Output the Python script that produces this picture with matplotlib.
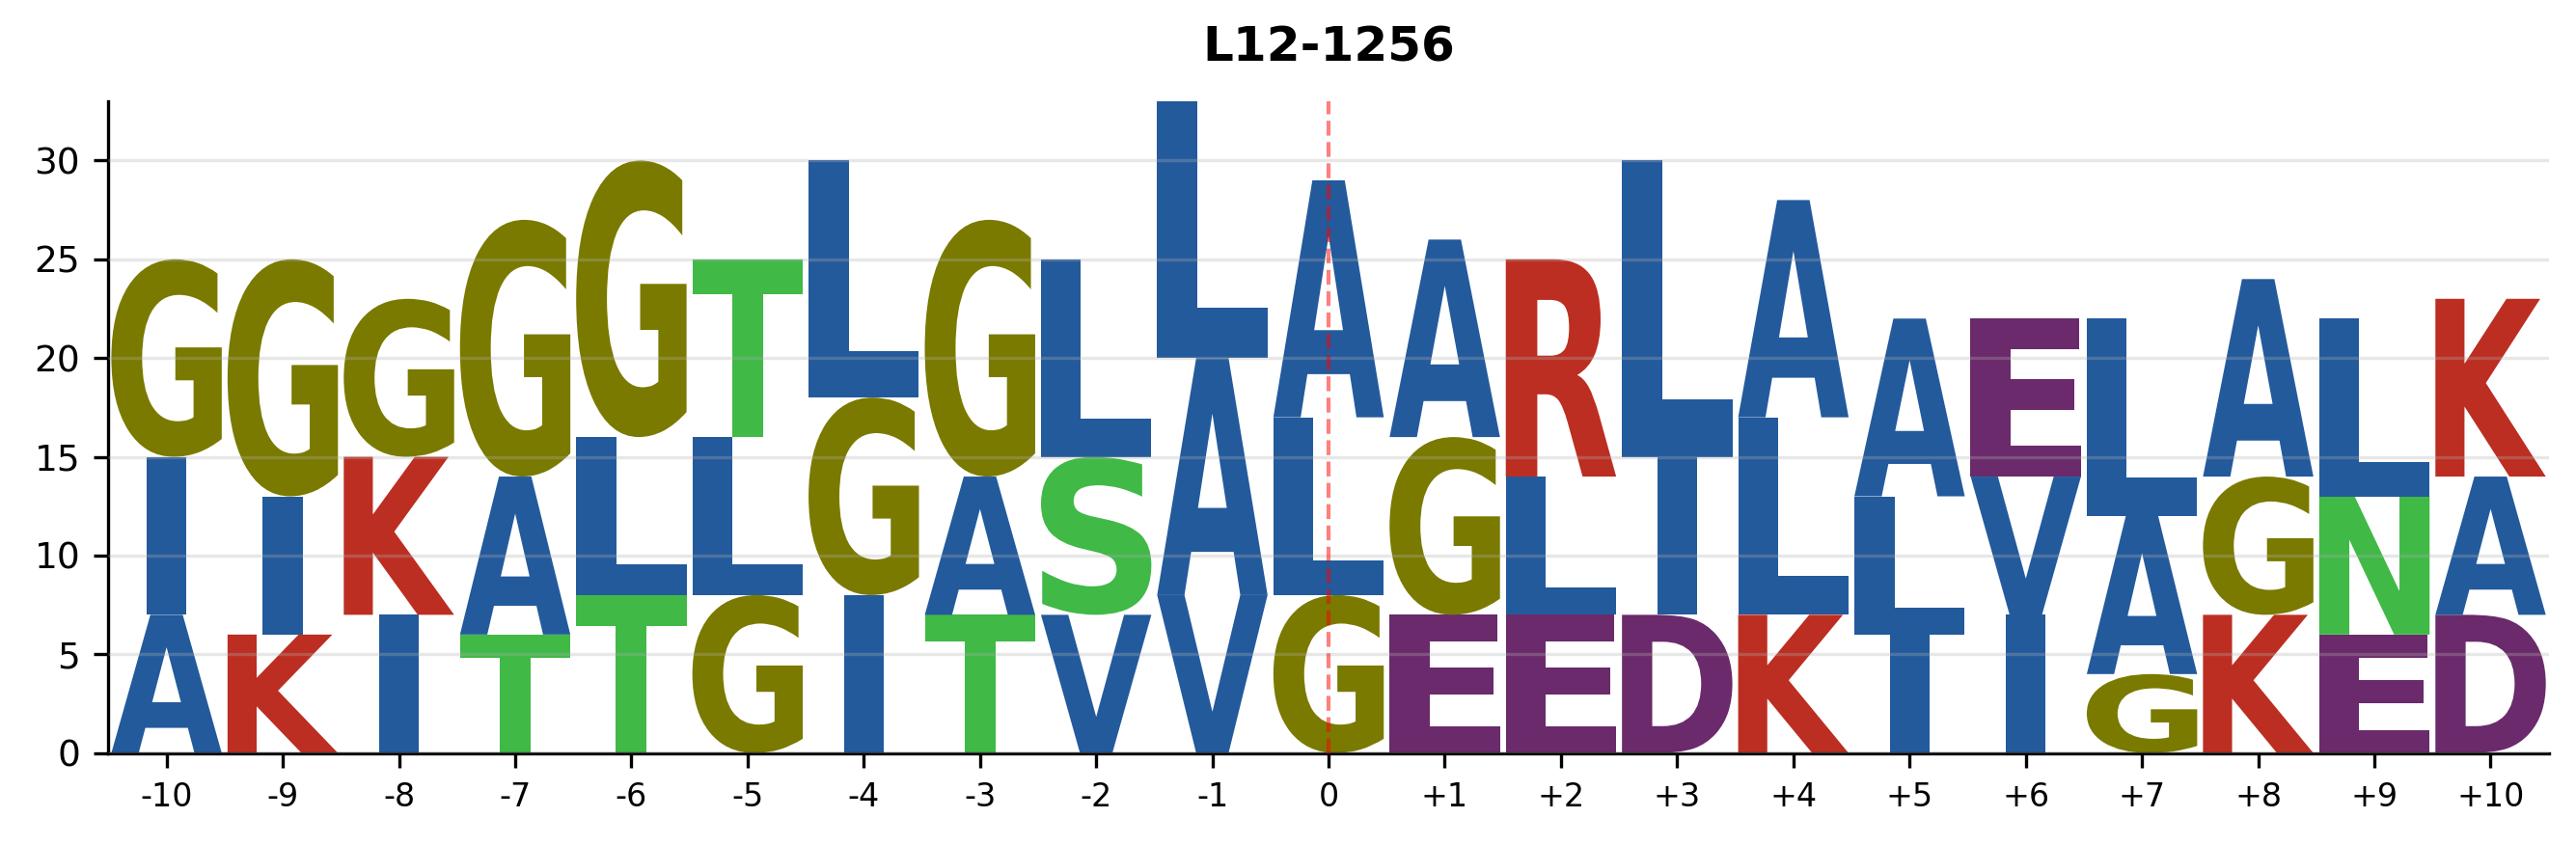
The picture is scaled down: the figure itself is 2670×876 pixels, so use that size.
#!/usr/bin/env python3
"""
Sequence logo for L12-1256 (positions -10..+10 around the site)
Letters are drawn as glyph paths stretched to fill their stack slot.
"""

import matplotlib

matplotlib.use("Agg")
import matplotlib.pyplot as plt
from matplotlib.font_manager import FontProperties
from matplotlib.patches import PathPatch
from matplotlib.textpath import TextPath
from matplotlib.transforms import Affine2D

# positions relative to the site
positions = list(range(-10, 11))
tick_labels = [f"{p:+d}" if p > 0 else str(p) for p in positions]

# letters per position, bottom -> top, with their counts
letters = [
    ["A", "I", "G"],  # -10
    ["K", "I", "G"],  # -9
    ["I", "K", "G"],  # -8
    ["T", "A", "G"],  # -7
    ["T", "L", "G"],  # -6
    ["G", "L", "T"],  # -5
    ["I", "G", "L"],  # -4
    ["T", "A", "G"],  # -3
    ["V", "S", "L"],  # -2
    ["V", "A", "L"],  # -1
    ["G", "L", "A"],  # 0
    ["E", "G", "A"],  # +1
    ["E", "L", "R"],  # +2
    ["D", "I", "L"],  # +3
    ["K", "L", "A"],  # +4
    ["I", "L", "A"],  # +5
    ["I", "V", "E"],  # +6
    ["G", "A", "L"],  # +7
    ["K", "G", "A"],  # +8
    ["E", "N", "L"],  # +9
    ["D", "A", "K"],  # +10
]
counts = [
    [7, 8, 10],
    [6, 7, 12],
    [7, 8, 8],
    [6, 8, 13],
    [8, 8, 14],
    [8, 8, 9],
    [8, 10, 12],
    [7, 7, 13],
    [7, 8, 10],
    [8, 12, 13],
    [8, 9, 12],
    [7, 9, 10],
    [7, 7, 11],
    [7, 8, 15],
    [7, 10, 11],
    [6, 7, 9],
    [7, 7, 8],
    [4, 8, 10],
    [7, 7, 10],
    [6, 7, 9],
    [7, 7, 9],
]

# residue colour groups
BLUE = "#235a9c"
OLIVE = "#7a7a00"
RED = "#bc2e22"
GREEN = "#40b947"
PURPLE = "#6a2a6b"
letter_colors = {
    "A": BLUE, "I": BLUE, "L": BLUE, "V": BLUE,
    "G": OLIVE,
    "K": RED, "R": RED,
    "S": GREEN, "N": GREEN, "T": GREEN,
    "E": PURPLE, "D": PURPLE,
}

FONT = FontProperties(family="DejaVu Sans", weight="bold")
WIDTH = 0.95
# narrow glyphs (I) are not stretched wider than an E would be
E_WIDTH = TextPath((0, 0), "E", size=1, prop=FONT).get_extents().width


def draw_letter(ax, char, x, y0, height, color):
    """Stretch a glyph so it fills its slot [x-w/2, x+w/2] x [y0, y0+height]"""
    path = TextPath((0, 0), char, size=1, prop=FONT)
    ext = path.get_extents()
    sx = min(WIDTH / ext.width, WIDTH / E_WIDTH)
    w = ext.width * sx
    tr = (
        Affine2D()
        .translate(-ext.x0, -ext.y0)
        .scale(sx, height / ext.height)
        .translate(x - w / 2, y0)
    )
    patch = PathPatch(tr.transform_path(path), facecolor=color, edgecolor="none", lw=0, zorder=2)
    ax.add_patch(patch)


def main():
    fig = plt.figure(figsize=(8.9, 2.92), dpi=300)
    ax = fig.add_axes([0.0421, 0.1088, 0.9473, 0.7713])

    for pos, chars, vals in zip(positions, letters, counts):
        bottom = 0
        for ch, v in zip(chars, vals):
            draw_letter(ax, ch, pos, bottom, v, letter_colors[ch])
            bottom += v

    ax.axvline(0, color="red", linestyle="--", linewidth=1, alpha=0.5, zorder=4)

    ax.set_xlim(-10.5, 10.5)
    ax.set_ylim(0, 33)
    ax.set_xticks(positions)
    ax.set_xticklabels(tick_labels, fontsize=8)
    ax.set_yticks([0, 5, 10, 15, 20, 25, 30])
    ax.tick_params(axis="y", labelsize=9)
    ax.grid(True, axis="y", alpha=0.3, zorder=3)
    ax.set_axisbelow(False)
    ax.spines["top"].set_visible(False)
    ax.spines["right"].set_visible(False)
    ax.set_title("L12-1256", fontsize=12, fontweight="bold", pad=10)

    fig.savefig("out.png", dpi=300)


if __name__ == "__main__":
    main()
